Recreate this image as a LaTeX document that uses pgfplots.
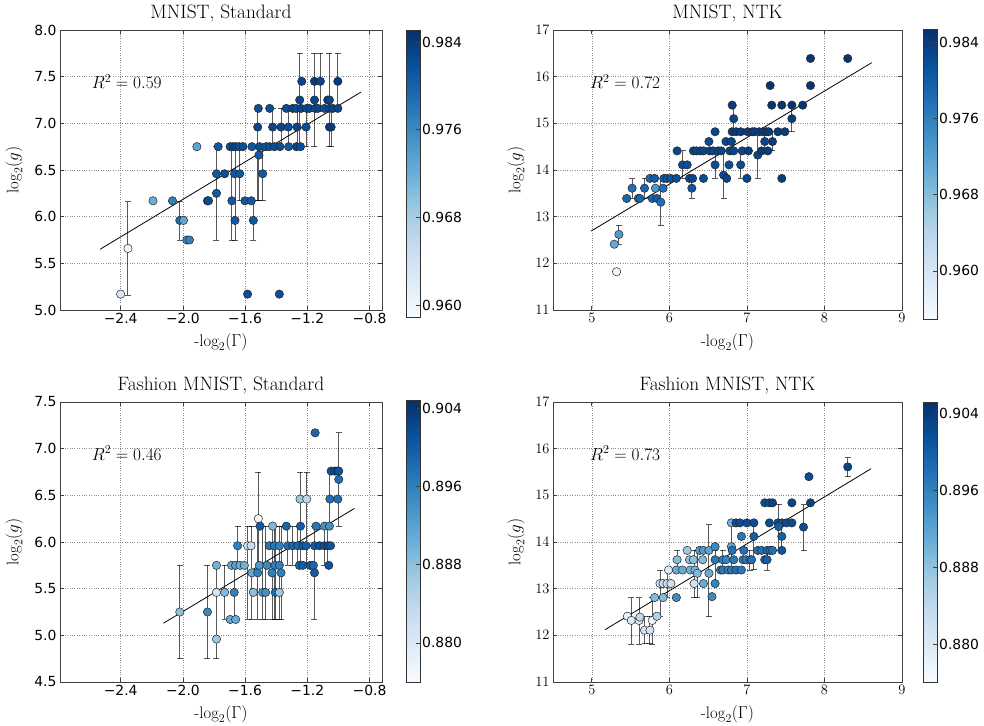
\documentclass[border=0pt]{standalone}
\usepackage{fontspec}
\usepackage{pgfplots}
\usepackage{pgfplotstable}
\pgfplotsset{compat=1.18}
\newfontfamily\dejavu{DejaVu Sans}

% matplotlib "Blues"
\pgfplotsset{
  colormap={mplblues}{rgb255(0cm)=(247,251,255); rgb255(1cm)=(222,235,247);
    rgb255(2cm)=(198,219,239); rgb255(3cm)=(158,202,225); rgb255(4cm)=(107,174,214);
    rgb255(5cm)=(66,146,198); rgb255(6cm)=(33,113,181); rgb255(7cm)=(8,81,156);
    rgb255(8cm)=(8,48,107)},
  panel/.style={
    scale only axis, anchor=south west,
    grid=major,
    grid style={dotted, black!45, line width=0.5pt},
    axis line style={black!75, line width=0.9pt},
    tick align=inside, major tick length=4pt,
    tick style={black!75, line width=0.6pt},
    tick label style={font=\dejavu\fontsize{13.9}{16}\selectfont},
    every axis title shift=0pt,
    title style={font=\fontsize{19.4}{23}\selectfont, at={(axis description cs:0.5,1)}, anchor=base, yshift=11.5pt},
    label style={font=\fontsize{16.7}{20}\selectfont},
    xlabel style={at={(axis description cs:0.5,-0.1286)}, anchor=base},
    xlabel={-$\log_2(\Gamma)$}, ylabel={$\log_2(g)$},
    colormap name=mplblues,
    colorbar,
    colorbar shift/.style={xshift=24pt},
    colorbar style={
      at={(parent axis.north east)}, anchor=north west,
      scale only axis, width=14pt,
      axis line style={black!80, line width=0.9pt},
      ytick pos=right, yticklabel pos=right,
      tick align=inside, major tick length=4pt,
      tick style={black!75, line width=0.6pt},
      yticklabel style={font=\dejavu\fontsize{13.9}{16}\selectfont, inner sep=2pt},
    },
  },
  errs/.style={draw=none, mark=none, forget plot,
    error bars/.cd, y dir=both, y explicit,
    error bar style={draw=black, opacity=0.65, line width=1pt},
    error mark options={draw=black, opacity=0.65, rotate=90, mark size=3pt, line width=1pt}},
  dots/.style={scatter, only marks, mark=*, mark size=4.2pt, point meta=explicit,
    scatter/use mapped color={draw=black!85, fill=mapped color},
    mark options={line width=0.5pt}},
}

% x y colour err+ err-
\pgfplotstableread{
x y c ep em
-2.400 5.17 0.963 0 0
-2.353 5.66 0.9595 0.50 0.50
-2.192 6.17 0.972 0 0
-2.067 6.17 0.977 0 0
-2.020 5.96 0.979 0.20 0.21
-1.996 5.96 0.973 0 0
-1.975 5.75 0.976 0 0
-1.958 5.75 0.977 0 0
-1.910 6.75 0.973 0 0
-1.842 6.17 0.984 0 0
-1.835 6.17 0.982 0 0
-1.784 6.25 0.981 0.50 0.50
-1.784 6.46 0.981 0 0
-1.773 6.75 0.981 0 0
-1.732 6.46 0.982 0 0
-1.696 6.75 0.982 0 0
-1.685 6.17 0.981 0.58 0.42
-1.678 6.75 0.983 0 0
-1.668 6.46 0.981 0 0
-1.665 5.96 0.981 0.79 0.21
-1.659 6.75 0.983 0 0
-1.638 6.75 0.982 0 0
-1.635 6.46 0.981 0.29 0.29
-1.614 6.75 0.982 0 0
-1.601 6.17 0.981 0 0
-1.584 5.17 0.982 0 0
-1.560 6.17 0.981 0 0
-1.556 6.75 0.981 0 0
-1.547 5.96 0.981 0.21 0.21
-1.519 6.96 0.983 0.20 0.79
-1.515 7.16 0.982 0 0
-1.511 6.66 0.981 0.09 0.49
-1.507 6.75 0.982 0 0
-1.487 6.46 0.981 0.29 0.29
-1.466 6.75 0.981 0 0
-1.444 6.75 0.982 0 0
-1.442 7.16 0.982 0 0
-1.423 6.96 0.983 0.20 0.21
-1.412 6.75 0.982 0 0
-1.380 5.17 0.982 0 0
-1.376 6.75 0.982 0 0
-1.369 6.96 0.983 0.20 0.21
-1.335 7.16 0.982 0 0
-1.322 6.96 0.982 0.20 0.21
-1.320 6.75 0.981 0 0
-1.294 7.16 0.983 0 0
-1.272 7.16 0.982 0 0
-1.270 6.75 0.983 0 0
-1.266 6.96 0.983 0.20 0.21
-1.249 7.25 0.983 0.50 0.50
-1.244 6.75 0.982 0 0
-1.240 7.16 0.983 0 0
-1.236 7.45 0.983 0 0
-1.208 6.96 0.982 0.20 0.21
-1.204 7.16 0.982 0 0
-1.187 7.16 0.983 0 0
-1.154 7.25 0.983 0.50 0.50
-1.154 7.45 0.984 0 0
-1.150 7.16 0.982 0 0
-1.133 7.16 0.983 0 0
-1.116 7.45 0.983 0.30 0.29
-1.090 7.16 0.982 0 0
-1.069 7.25 0.984 0 0
-1.058 7.25 0.983 0.50 0.50
-1.058 7.16 0.983 0 0
-1.058 6.96 0.983 0 0
-1.047 6.96 0.984 0.20 0.21
-1.036 7.16 0.983 0 0
-1.004 7.16 0.983 0 0
-1.004 7.45 0.984 0.30 0.29
}\mniststd

\pgfplotstableread{
x y c ep em
5.32 11.82 0.956 0 0
5.29 12.41 0.971 0 0
5.35 12.62 0.973 0.20 0.21
5.45 13.39 0.979 0 0
5.52 13.61 0.978 0.20 0.21
5.60 13.39 0.978 0 0
5.62 13.39 0.979 0 0
5.68 13.61 0.979 0.21 0.22
5.75 13.82 0.979 0 0
5.78 13.39 0.979 0 0
5.81 13.82 0.980 0 0
5.82 13.61 0.973 0 0
5.84 13.39 0.980 0 0
5.89 13.31 0.978 0.51 0.49
5.92 13.61 0.978 0 0
5.93 13.82 0.980 0 0
5.97 13.82 0.981 0 0
6.02 13.82 0.981 0 0
6.09 13.82 0.982 0 0
6.10 14.41 0.983 0 0
6.17 14.11 0.982 0.30 0.29
6.23 14.11 0.982 0 0
6.26 13.82 0.982 0 0
6.29 13.61 0.981 0.21 0.22
6.30 13.82 0.983 0 0
6.31 14.41 0.983 0 0
6.35 14.41 0.983 0 0
6.40 14.41 0.983 0 0
6.44 14.41 0.983 0 0
6.44 13.82 0.982 0 0
6.51 14.61 0.982 0 0
6.52 14.41 0.983 0 0
6.56 14.41 0.983 0 0
6.59 14.82 0.983 0 0
6.59 14.11 0.982 0.30 0.29
6.63 14.41 0.983 0 0
6.67 14.41 0.983 0 0
6.70 13.89 0.982 0.52 0.50
6.73 14.61 0.983 0 0
6.74 13.82 0.983 0 0
6.77 14.11 0.982 0 0
6.78 14.41 0.983 0 0
6.80 14.61 0.983 0 0
6.81 15.39 0.984 0 0
6.83 15.10 0.983 0.29 0.28
6.81 14.82 0.984 0 0
6.86 14.82 0.984 0 0
6.92 14.82 0.984 0 0
6.83 14.41 0.983 0 0
6.92 14.11 0.982 0.30 0.29
6.94 14.41 0.983 0 0
7.00 13.82 0.983 0 0
7.02 14.41 0.984 0 0
7.01 14.82 0.984 0 0
7.07 14.82 0.984 0 0
7.10 14.82 0.984 0 0
7.16 14.82 0.984 0 0
7.21 14.82 0.984 0 0
7.25 14.82 0.984 0 0
7.28 14.82 0.984 0 0
7.14 14.32 0.983 0.50 0.50
7.19 14.41 0.984 0 0
7.27 14.41 0.984 0 0
7.23 14.61 0.983 0.21 0.20
7.33 14.61 0.984 0.21 0.20
7.30 15.81 0.985 0 0
7.32 15.39 0.985 0 0
7.45 15.39 0.985 0 0
7.58 15.39 0.985 0 0
7.72 15.39 0.985 0 0
7.40 14.82 0.984 0 0
7.49 14.82 0.984 0 0
7.45 13.82 0.984 0 0
7.58 15.10 0.984 0.29 0.28
7.82 16.39 0.985 0 0
8.30 16.39 0.985 0 0
7.82 15.81 0.985 0 0
}\mnistntk

\pgfplotstableread{
x y c ep em
-2.020 5.25 0.888 0.50 0.50
-1.842 5.25 0.895 0.50 0.50
-1.784 5.75 0.890 0 0
-1.784 5.46 0.881 0.29 0.71
-1.784 4.96 0.887 0 0
-1.732 5.46 0.889 0.29 0.29
-1.696 5.17 0.891 0 0
-1.661 5.17 0.891 0 0
-1.687 5.75 0.891 0 0
-1.661 5.75 0.892 0 0
-1.633 5.75 0.891 0 0
-1.605 5.75 0.890 0 0
-1.670 5.46 0.896 0.29 0.29
-1.648 5.96 0.896 0.21 0.21
-1.584 5.96 0.882 0.21 0.79
-1.562 5.96 0.883 0 0
-1.556 5.67 0.891 0.50 0.50
-1.547 5.46 0.888 0 0
-1.519 5.67 0.896 0.50 0.50
-1.515 6.25 0.876 0.50 0.50
-1.504 6.17 0.900 0 0
-1.509 5.75 0.893 0 0
-1.487 5.46 0.893 0.71 0.29
-1.468 5.46 0.894 0.71 0.29
-1.459 5.75 0.895 0 0
-1.444 5.96 0.897 0 0
-1.412 5.96 0.897 0 0
-1.380 5.96 0.896 0 0
-1.423 6.17 0.889 0 0
-1.427 5.67 0.896 0.50 0.50
-1.408 5.75 0.896 0.42 0.58
-1.380 5.75 0.896 0 0
-1.406 5.46 0.898 0.71 0.29
-1.380 5.46 0.887 0.71 0.29
-1.369 5.67 0.896 0.50 0.50
-1.335 6.17 0.899 0 0
-1.326 5.96 0.898 0.21 0.21
-1.294 5.96 0.899 0.21 0.21
-1.262 5.96 0.899 0.21 0.21
-1.229 5.96 0.900 0 0
-1.208 5.96 0.900 0 0
-1.247 6.46 0.887 0.29 0.71
-1.204 6.46 0.884 0.29 0.71
-1.244 6.17 0.900 0 0
-1.251 5.75 0.899 0 0
-1.229 5.75 0.900 0 0
-1.182 5.75 0.900 0 0
-1.161 5.75 0.899 0 0
-1.150 7.17 0.899 0 0
-1.154 5.67 0.900 0.50 0.50
-1.144 6.17 0.897 0 0
-1.154 5.96 0.900 0 0
-1.122 5.96 0.901 0 0
-1.090 5.96 0.901 0.21 0.21
-1.068 5.96 0.902 0.21 0.21
-1.051 5.96 0.901 0 0
-1.090 6.17 0.894 0 0
-1.058 6.17 0.894 0 0
-1.062 5.75 0.901 0 0
-1.055 6.46 0.898 0.29 0.29
-1.004 6.46 0.898 0 0
-1.047 6.76 0.901 0 0
-1.025 6.76 0.901 0 0
-1.008 6.76 0.902 0 0
-0.998 6.76 0.901 0 0
-0.998 6.67 0.898 0.50 0.50
}\fashionstd

\pgfplotstableread{
x y c ep em
5.46 12.41 0.878 0 0
5.51 12.32 0.880 0.49 0.51
5.61 12.32 0.880 0.49 0.51
5.62 12.39 0.884 0 0
5.68 12.11 0.882 0.30 0.29
5.75 12.11 0.882 0.30 0.29
5.78 12.32 0.877 0.49 0.51
5.81 12.81 0.889 0 0
5.84 12.41 0.885 0 0
5.88 13.11 0.883 0.29 0.70
5.92 13.11 0.883 0 0
5.97 13.11 0.883 0.29 0.30
6.02 13.11 0.882 0 0
5.92 12.81 0.889 0 0
5.99 13.40 0.880 0 0
6.09 13.40 0.891 0 0
6.17 13.40 0.891 0 0
6.09 12.81 0.895 0 0
6.10 13.62 0.889 0.20 0.22
6.23 13.82 0.887 0 0
6.26 13.62 0.888 0 0
6.31 13.62 0.888 0 0
6.27 13.40 0.890 0 0
6.33 13.40 0.890 0 0
6.32 13.11 0.882 0.71 0.30
6.36 13.33 0.889 0.49 0.52
6.39 13.82 0.893 0 0
6.44 13.82 0.893 0 0
6.43 13.62 0.889 0 0
6.44 13.11 0.891 0 0
6.51 13.82 0.892 0 0
6.51 13.33 0.891 1.04 0.93
6.55 12.83 0.895 0 0
6.59 13.90 0.895 0 0
6.59 13.62 0.897 0 0
6.59 13.11 0.896 0.71 0
6.66 13.40 0.897 0 0
6.69 13.40 0.897 0 0
6.76 13.40 0.896 0 0
6.80 13.40 0.897 0 0
6.86 13.40 0.898 0 0
6.93 13.40 0.897 0 0
6.69 13.62 0.896 0.20 0.22
6.73 13.62 0.896 0 0
6.80 13.90 0.892 0.51 0.50
6.80 14.41 0.890 0 0
6.86 14.41 0.902 0 0
6.91 14.41 0.902 0 0
7.00 14.41 0.902 0 0
7.09 14.41 0.902 0 0
6.81 13.82 0.898 0 0
6.83 13.62 0.897 0 0
6.93 14.12 0.897 0 0
6.96 13.82 0.898 0 0
6.95 13.62 0.897 0 0
6.99 13.62 0.897 0 0
7.04 13.62 0.897 0.20 0.22
7.06 13.62 0.898 0 0
7.09 14.12 0.900 0.29 0.71
7.14 13.82 0.898 0 0
7.19 13.82 0.898 0 0
7.26 13.82 0.899 0 0
7.30 13.82 0.898 0 0
7.33 13.82 0.898 0 0
7.23 14.84 0.902 0 0
7.29 14.84 0.902 0 0
7.33 14.84 0.903 0 0
7.23 13.62 0.900 0 0
7.26 13.62 0.900 0.20 0.22
7.29 14.41 0.902 0 0
7.40 14.41 0.902 0 0
7.45 14.41 0.902 0 0
7.51 14.41 0.902 0 0
7.58 14.41 0.902 0 0
7.41 14.33 0.900 0.48 0.51
7.45 14.12 0.900 0.29 0.30
7.45 13.82 0.901 0 0
7.58 14.84 0.903 0 0
7.73 14.32 0.902 0.48 0.51
7.80 15.40 0.902 0 0
7.82 14.84 0.903 0 0
8.30 15.61 0.903 0.20 0.21
}\fashionntk

\begin{document}
\begin{tikzpicture}
\path[use as bounding box] (0pt,0pt) rectangle (984pt,-725pt);

% ---- MNIST, Standard
\begin{axis}[panel, at={(60pt,-310pt)}, width=322pt, height=280pt,
  xmin=-2.79, xmax=-0.72, ymin=5, ymax=8,
  xtick={-2.4,-2.0,-1.6,-1.2,-0.8}, xticklabels={−2.4,−2.0,−1.6,−1.2,−0.8},
  ytick={5,5.5,6,6.5,7,7.5,8}, yticklabels={5.0,5.5,6.0,6.5,7.0,7.5,8.0},
  ylabel style={at={(axis description cs:-0.143,0.5)}, anchor=center},
  point meta min=0.9589, point meta max=0.9851,
  colorbar style={height=287pt, ytick={0.960,0.968,0.976,0.984}, yticklabels={0.960,0.968,0.976,0.984}},
  title={MNIST, Standard}]
  \addplot[errs] table[x=x, y=y, y error plus=ep, y error minus=em] {\mniststd};
  \addplot[dots] table[x=x, y=y, meta=c] {\mniststd};
  \addplot[black, line width=0.8pt, no markers] coordinates {(-2.533,5.65) (-0.854,7.336)};
  \node[anchor=west, inner sep=0pt, font=\fontsize{16.7}{20}\selectfont] at (axis description cs:0.098,0.815) {$R^2=0.59$};
\end{axis}

% ---- MNIST, NTK
\begin{axis}[panel, at={(553pt,-310pt)}, width=349pt, height=280pt,
  xmin=4.5, xmax=9, ymin=11, ymax=17,
  xtick={5,6,7,8,9}, ytick={11,12,13,14,15,16,17},
  ylabel style={at={(axis description cs:-0.106,0.5)}, anchor=center},
  point meta min=0.9549, point meta max=0.9854,
  colorbar shift/.style={xshift=21pt},
  colorbar style={height=290pt, yshift=0.7pt, ytick={0.960,0.968,0.976,0.984}, yticklabels={0.960,0.968,0.976,0.984}},
  title={MNIST, NTK}]
  \addplot[errs] table[x=x, y=y, y error plus=ep, y error minus=em] {\mnistntk};
  \addplot[dots] table[x=x, y=y, meta=c] {\mnistntk};
  \addplot[black, line width=0.8pt, no markers] coordinates {(4.99,12.69) (8.61,16.30)};
  \node[anchor=west, inner sep=0pt, font=\fontsize{16.7}{20}\selectfont] at (axis description cs:0.106,0.815) {$R^2=0.72$};
\end{axis}

% ---- Fashion MNIST, Standard
\begin{axis}[panel, at={(60pt,-682pt)}, width=322pt, height=280pt,
  xmin=-2.79, xmax=-0.72, ymin=4.5, ymax=7.5,
  xtick={-2.4,-2.0,-1.6,-1.2,-0.8}, xticklabels={−2.4,−2.0,−1.6,−1.2,−0.8},
  ytick={4.5,5,5.5,6,6.5,7,7.5}, yticklabels={4.5,5.0,5.5,6.0,6.5,7.0,7.5},
  ylabel style={at={(axis description cs:-0.143,0.5)}, anchor=center},
  point meta min=0.8760, point meta max=0.90485,
  colorbar style={height=282pt, yshift=2pt, ytick={0.880,0.888,0.896,0.904}, yticklabels={0.880,0.888,0.896,0.904}},
  title={Fashion MNIST, Standard}]
  \addplot[errs] table[x=x, y=y, y error plus=ep, y error minus=em] {\fashionstd};
  \addplot[dots] table[x=x, y=y, meta=c] {\fashionstd};
  \addplot[black, line width=0.8pt, no markers] coordinates {(-2.125,5.13) (-0.897,6.36)};
  \node[anchor=west, inner sep=0pt, font=\fontsize{16.7}{20}\selectfont] at (axis description cs:0.098,0.817) {$R^2=0.46$};
\end{axis}

% ---- Fashion MNIST, NTK
\begin{axis}[panel, at={(553pt,-682pt)}, width=349pt, height=280pt,
  xmin=4.5, xmax=9, ymin=11, ymax=17,
  xtick={5,6,7,8,9}, ytick={11,12,13,14,15,16,17},
  ylabel style={at={(axis description cs:-0.106,0.5)}, anchor=center},
  point meta min=0.8761, point meta max=0.9052,
  colorbar shift/.style={xshift=21pt},
  colorbar style={height=280pt, ytick={0.880,0.888,0.896,0.904}, yticklabels={0.880,0.888,0.896,0.904}},
  title={Fashion MNIST, NTK}]
  \addplot[errs] table[x=x, y=y, y error plus=ep, y error minus=em] {\fashionntk};
  \addplot[dots] table[x=x, y=y, meta=c] {\fashionntk};
  \addplot[black, line width=0.8pt, no markers] coordinates {(5.17,12.12) (8.60,15.57)};
  \node[anchor=west, inner sep=0pt, font=\fontsize{16.7}{20}\selectfont] at (axis description cs:0.106,0.817) {$R^2=0.73$};
\end{axis}
\end{tikzpicture}
\end{document}
